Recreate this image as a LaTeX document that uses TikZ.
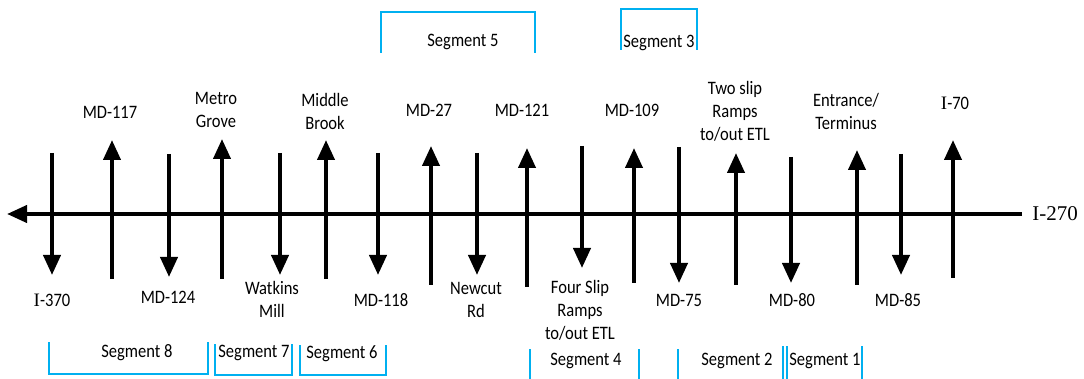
\documentclass[tikz,border=0pt]{standalone}
\usepackage{fontspec}
\usepackage{tikz}
\usetikzlibrary{arrows.meta}
\newfontfamily\lblfont{Carlito}[FakeStretch=0.87]
\newfontfamily\romfont{Liberation Serif}
\definecolor{segblue}{RGB}{0,176,240}
\newcommand{\drawr}{\draw[line width=4pt]}
\newcommand{\drawseg}{\draw[line width=2pt, color=segblue]}
\newcommand{\romI}{{\romfont I}}

\begin{document}
\begin{tikzpicture}[x=1pt, y=-1pt, >={Triangle[width=17pt,length=20pt]},
  every node/.style={font=\lblfont\fontsize{19}{23}\selectfont, align=center, inner sep=0pt}]
\useasboundingbox (0,0) rectangle (1084,379);
% Tuyến chính
\drawr[->] (1022,214) -- (7,214);
\draw (1055,214) node[font=\romfont\fontsize{21}{25}\selectfont] (i270) {I-270};
% Các nút giao (trái sang phải)
\drawr[->] (52,153) -- (52,275);
\draw (52,300) node (i370) {\romI-370};
\drawr[->] (112,279) -- (112,140);
\draw (110,112) node (md117) {MD-117};
\drawr[->] (169,154) -- (169,277);
\draw (168,297) node (md124) {MD-124};
\drawr[->] (222,279) -- (222,139);
\draw (216,110) node (metro) {Metro\\Grove};
\drawr[->] (280,153) -- (280,275);
\draw (272,299) node (watkins) {Watkins\\Mill};
\drawr[->] (326,279) -- (326,140);
\draw (325,111) node (middle) {Middle\\Brook};
\drawr[->] (378,153) -- (378,275);
\draw (381,300) node (md118) {MD-118};
\drawr[->] (431,285) -- (431,146);
\draw (429,110) node (md27) {MD-27};
\drawr[->] (477,153) -- (477,275);
\draw (476,300) node (newcut) {Newcut\\Rd};
\drawr[->] (527,287) -- (527,148);
\draw (522,110) node (md121) {MD-121};
\drawr[->] (582,146) -- (582,268);
\draw (580,310) node (fourslip) {Four Slip\\Ramps\\to/out ETL};
\drawr[->] (634,283) -- (634,148);
\draw (632,110) node (md109) {MD-109};
\drawr[->] (679,147) -- (679,283);
\draw (679,300) node (md75) {MD-75};
\drawr[->] (736,285) -- (736,153);
\draw (735,111) node (twoslip) {Two slip\\Ramps\\to/out ETL};
\drawr[->] (791,157) -- (791,283);
\draw (792,300) node (md80) {MD-80};
\drawr[->] (857,285) -- (857,150);
\draw (846,111) node (entrance) {Entrance/\\Terminus};
\drawr[->] (901,154) -- (901,275);
\draw (898,300) node (md85) {MD-85};
\drawr[->] (953,278) -- (953,140);
\draw (955,103) node (i70) {\romI-70};
% Các đoạn phía trên
\drawseg (381,53) -- (381,12) -- (535,12) -- (535,53);
\draw (463,42) node (seg5) {Segment 5};
\drawseg (621,50) -- (621,9) -- (697,9) -- (697,50);
\draw (659,43) node (seg3) {Segment 3};
% Các đoạn phía dưới
\drawseg (49,342) -- (49,374) -- (208,374) -- (208,342);
\draw (137,353) node (seg8) {Segment 8};
\drawseg (215,344) -- (215,375) -- (292,375) -- (292,344);
\draw (254,353) node (seg7) {Segment 7};
\drawseg (300,345) -- (300,375) -- (386,375) -- (386,345);
\draw (342,354) node (seg6) {Segment 6};
\drawseg (530,349) -- (530,379);
\drawseg (639,349) -- (639,379);
\draw (586,361) node (seg4) {Segment 4};
\drawseg (678,349) -- (678,379);
\drawseg (783,346) -- (783,379);
\draw (737,361) node (seg2) {Segment 2};
\drawseg (787,346) -- (787,379);
\drawseg (862,346) -- (862,379);
\draw (825,361) node (seg1) {Segment 1};
\end{tikzpicture}
\end{document}
